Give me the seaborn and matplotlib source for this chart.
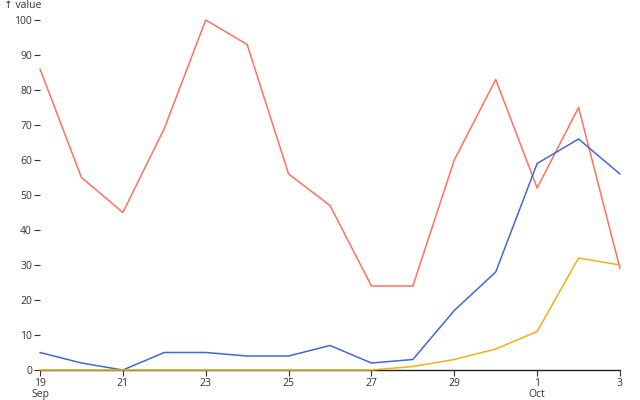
import matplotlib
matplotlib.use("Agg")
import matplotlib.pyplot as plt
import pandas as pd
import seaborn as sns

# Data
dates = pd.date_range("2023-09-19", "2023-10-03", freq="D")
red_vals = [86, 55, 45, 69, 100, 93, 56, 47, 24, 24, 60, 83, 52, 75, 29]
blue_vals = [5, 2, 0, 5, 5, 4, 4, 7, 2, 3, 17, 28, 59, 66, 56]
yellow_vals = [0, 0, 0, 0, 0, 0, 0, 0, 0, 1, 3, 6, 11, 32, 30]
series_names = ["a", "b", "c"]
colors = ["#ff725c", "#4269d0", "#efb118"]
tick_labels = ["19\nSep", "21", "23", "25", "27", "29", "1\nOct", "3"]

df = pd.concat([
    pd.DataFrame({"date": dates, "value": vals, "series": name})
    for name, vals in zip(series_names, [red_vals, blue_vals, yellow_vals])
])

sns.set_style("white")
plt.rcParams["font.family"] = ["Open Sans", "DejaVu Sans"]

fig = plt.figure(figsize=(6.4, 4.0), dpi=100)
ax = fig.add_axes([40 / 640, 30 / 400, 580 / 640, 350 / 400])

# zero rule drawn first, lines on top
ax.axhline(0, color="#222222", linewidth=1.0, zorder=1, clip_on=False)
sns.lineplot(data=df, x="date", y="value", hue="series",
             palette=dict(zip(series_names, colors)), linewidth=1.1,
             legend=False, ax=ax, zorder=2)
for line in ax.lines:
    line.set_clip_on(False)

ax.set_xlim(dates[0], dates[-1])
ax.set_ylim(0, 100)
ax.set_xlabel("")
ax.set_ylabel("")

for s in ax.spines.values():
    s.set_visible(False)

ax.set_yticks(range(0, 101, 10))
ax.set_xticks(dates[::2])
ax.set_xticklabels(tick_labels, linespacing=0.95)
ax.tick_params(axis="both", bottom=True, left=True, length=4.3, width=0.8,
               color="#333333", labelcolor="#333333", labelsize=7.5, pad=1.5)

fig.text(4 / 640, 1 - 6 / 400, "↑ value", fontsize=7.5, color="#333333",
         va="center", ha="left")

fig.savefig("out.png", dpi=100)
